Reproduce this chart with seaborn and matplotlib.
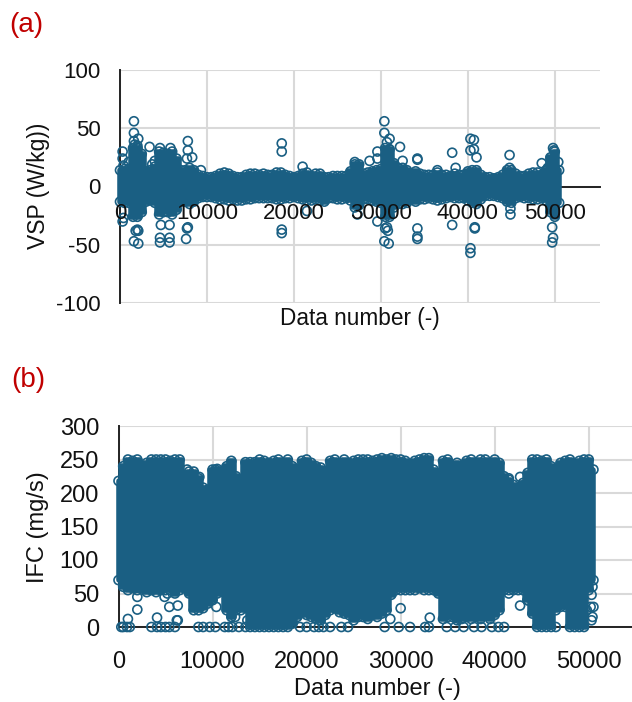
import pandas as pd
import matplotlib
matplotlib.use('Agg')
import matplotlib.pyplot as plt
import seaborn as sns

sns.set_theme(style='white')
plt.rcParams['font.family'] = ['Liberation Sans', 'DejaVu Sans']

BLUE = '#1a5f83'
GRID = '#d9d9d9'

# data numbers at which the edge of the dense band was read
band_x = list(range(0, 51000, 500))

vsp_upper = [14, 15, 15, 33, 33, 28, 13, 14, 17, 30, 29, 28, 30, 24, 14, 14, 16, 14, 10, 9,
             8, 8, 9, 11, 12, 11, 9, 8, 8, 10, 11, 11, 10, 11, 10, 10, 12, 12, 10, 9,
             8, 9, 11, 12, 9, 11, 11, 8, 8, 9, 9, 9, 9, 13, 19, 19, 11, 12, 13, 14,
             15, 33, 32, 20, 16, 16, 14, 10, 13, 11, 10, 10, 10, 12, 10, 10, 9, 11, 10, 10,
             13, 14, 14, 10, 8, 8, 7, 8, 10, 14, 14, 11, 9, 9, 11, 12, 12, 10, 14, 25, 30, 14]
vsp_lower = [-13, -14, -14, -26, -26, -22, -13, -12, -14, -24, -22, -22, -24, -20, -13, -13, -15, -13, -10, -9,
             -9, -9, -10, -11, -11, -12, -11, -12, -12, -11, -11, -10, -10, -10, -10, -10, -11, -11, -10, -10,
             -9, -10, -11, -12, -12, -11, -12, -13, -10, -10, -11, -11, -10, -12, -18, -16, -11, -11, -12, -13,
             -14, -26, -26, -18, -15, -15, -14, -10, -13, -11, -11, -10, -11, -12, -11, -10, -9, -10, -10, -10,
             -12, -14, -15, -11, -8, -8, -8, -9, -10, -13, -14, -10, -9, -10, -10, -11, -11, -10, -12, -22, -26, -14]
# points standing clear of the band
vsp_out_x = [300, 300, 300, 400, 400, 1000, 1600, 1600, 1600, 1700, 2100, 2000, 3400, 3700, 4000, 4600, 5800, 4700, 5700,
             4600, 5700, 4600, 5700, 1600, 1800, 2100, 2000, 2100, 7700, 7800, 7800, 7700, 7800, 7600, 8300, 9300,
             18600, 18600, 18600, 18600, 21000, 21500,
             27000, 27300, 28700, 29600, 29600, 30400, 30400, 30700, 31000, 30400, 30500, 30900, 30800, 30700, 29600,
             32200, 32500, 34200, 34200, 34200, 34200, 34200, 36500, 38200, 38200, 38600, 40300, 40700, 40300, 40700, 41000,
             40300, 40300, 40800, 40800, 44800, 44800, 44900, 44900, 48500, 49200, 49800, 49900, 49800, 49700, 49700, 50400]
vsp_out_y = [30, 24, -30, 18, -27, 21, 56, 46, 39, 36, 41, 35, 34, 19, 22, 33, 33, -33, -33, -44, -44, -48, -48, -47, -38,
             -49, -37, -38, 24, 31, 39, -36, -35, -45, 25, 14,
             37, 30, -37, -40, 17, -21,
             21, -24, 22, 30, -30, 56, 46, 38, 41, -47, -36, -49, -38, -35, 24,
             34, 22, 24, 23, -36, -43, -45, 14, 29, -33, 16, 41, 40, 31, 32, 25,
             -53, -57, -35, -36, 27, 16, -19, -24, 20, 16, 33, 31, -44, -48, -35, 21]

ifc_upper = [218, 240, 250, 248, 250, 240, 245, 250, 250, 250, 250, 248, 250, 250, 215, 232, 232, 222, 208, 205,
             235, 236, 215, 240, 248, 225, 215, 246, 246, 246, 250, 248, 245, 248, 250, 245, 250, 240, 235, 248,
             250, 245, 240, 238, 220, 248, 250, 235, 250, 245, 248, 250, 250, 250, 248, 250, 252, 250, 252, 250,
             250, 248, 240, 248, 250, 252, 252, 235, 225, 248, 250, 240, 245, 240, 248, 250, 245, 250, 250, 240,
             250, 245, 225, 220, 212, 205, 215, 230, 250, 250, 248, 250, 240, 215, 245, 248, 250, 240, 248, 250, 250, 235]
ifc_lower = [70, 60, 55, 58, 55, 58, 52, 55, 52, 55, 55, 55, 50, 55, 58, 50, 25, 25, 28, 35,
             40, 50, 55, 25, 15, 25, 25, 35, 0, 0, 0, 0, 0, 0, 0, 0, 0, 5, 15, 22,
             18, 15, 12, 10, 18, 25, 28, 22, 20, 18, 10, 15, 15, 12, 18, 15, 20, 25, 48, 55,
             55, 55, 55, 55, 58, 55, 55, 55, 50, 12, 15, 15, 10, 12, 15, 12, 15, 12, 18, 12,
             18, 25, 55, 55, 55, 55, 55, 40, 20, 0, 0, 0, 0, 25, 30, 30, 0, 0, 0, 0, 55, 70]
ifc_out_x = [300, 500, 900, 1200, 1000, 2000, 3500, 4100, 4500, 5000, 5400, 6000, 6300, 6300, 4100, 5400, 6200, 2000, 4900, 5200,
             8500, 9000, 9700, 10300, 10400, 8600, 11300, 11700, 12100, 12400, 12800, 13500, 13600, 13700,
             19300, 20000, 20800, 21300, 21800, 22500, 23700, 24400, 28300, 28900, 29800, 30000, 31000, 32600, 33000, 33100,
             34900, 35800, 36700, 37800, 38600, 39700, 40400, 41000, 41500, 42700, 43500, 46500, 49800, 50200, 50300, 50400,
             8600, 42700, 41500, 13900, 13900, 14000, 7300, 7500, 10300, 50300, 50500, 50400]
ifc_out_y = [0, 0, 0, 0, 12, 26, 0, 0, 0, 0, 0, 0, 32, 10, 14, 30, 10, 45, 45, 50,
             0, 0, 0, 0, 30, 32, 0, 0, 0, 15, 0, 0, 28, 10,
             0, 0, 0, 0, 0, 0, 0, 0, 0, 12, 0, 28, 0, 0, 0, 14,
             0, 0, 0, 0, 0, 0, 0, 0, 50, 32, 40, 0, 25, 30, 10, 60,
             224, 224, 222, 242, 228, 218, 235, 225, 235, 48, 30, 15]

vsp_ticks = [-100, -50, 0, 50, 100]
vsp_tick_labels = ['-100', '-50', '0', '50', '100']
ifc_ticks = [0, 50, 100, 150, 200, 250, 300]
x_ticks = [0, 10000, 20000, 30000, 40000, 50000]


def draw(ax, x, upper, lower, out_x, out_y, size):
    # the stroke brings the solid band out to the rim of the outermost circles
    ax.fill_between(x, lower, upper, facecolor=BLUE, edgecolor=BLUE, lw=4, zorder=3, step='mid',
                    clip_on=False, joinstyle='round')
    edge = pd.DataFrame({'x': x + x + out_x, 'y': upper + lower + out_y})
    sns.scatterplot(data=edge, x='x', y='y', ax=ax, s=42, facecolor='none', edgecolor=BLUE,
                    linewidth=1.2, clip_on=False, zorder=4, legend=False)
    ax.grid(True, color=GRID, lw=1.5)
    ax.set_axisbelow(True)
    for side in ['top', 'right']:
        ax.spines[side].set_visible(False)
    for side in ['left', 'bottom']:
        ax.spines[side].set_color('#222222')
        ax.spines[side].set_linewidth(1.4)
    ax.spines['bottom'].set_position(('data', 0))
    ax.tick_params(length=0, labelsize=size, colors='#111111')
    ax.set_xticks(x_ticks)
    ax.set_ylabel('')
    ax.set_xlabel('')


fig = plt.figure(figsize=(6.32, 7.02), dpi=100)
W, H = 632, 702

ax_a = fig.add_axes([120 / W, 1 - 303 / H, 480 / W, 233 / H])
draw(ax_a, band_x, vsp_upper, vsp_lower, vsp_out_x, vsp_out_y, 16)
ax_a.set_xlim(0, 55200)
ax_a.set_ylim(-100, 100)
ax_a.set_yticks(vsp_ticks)
ax_a.set_yticklabels(vsp_tick_labels)
ax_a.tick_params(axis='y', pad=14)
# these labels lie over the circles, the axis' own would go under them
ax_a.set_xticklabels([])
for t in x_ticks:
    ax_a.text(t, -23, str(t), ha='center', va='center', fontsize=16, color='#111111', zorder=6)

ax_b = fig.add_axes([118.5 / W, 1 - 627 / H, 513.5 / W, 201 / H])
draw(ax_b, band_x, ifc_upper, ifc_lower, ifc_out_x, ifc_out_y, 17)
ax_b.set_xlim(0, 54600)
ax_b.set_ylim(0, 300)
ax_b.set_yticks(ifc_ticks)
ax_b.tick_params(axis='x', pad=17)
ax_b.tick_params(axis='y', pad=14)

fig.text(360 / W, 1 - 319 / H, 'Data number (-)', ha='center', va='center', fontsize=16.3, color='#111111')
fig.text(377 / W, 1 - 689 / H, 'Data number (-)', ha='center', va='center', fontsize=17, color='#111111')
fig.text(38 / W, 1 - 186 / H, 'VSP (W/kg))', rotation=90, ha='center', va='center', fontsize=16.5, color='#111111')
fig.text(38 / W, 1 - 527 / H, 'IFC (mg/s)', rotation=90, ha='center', va='center', fontsize=17, color='#111111')
fig.text(9 / W, 1 - 25 / H, '(a)', ha='left', va='center', fontsize=20, color='#c00000')
fig.text(11 / W, 1 - 380 / H, '(b)', ha='left', va='center', fontsize=20, color='#c00000')

fig.savefig('out.png', dpi=100)
